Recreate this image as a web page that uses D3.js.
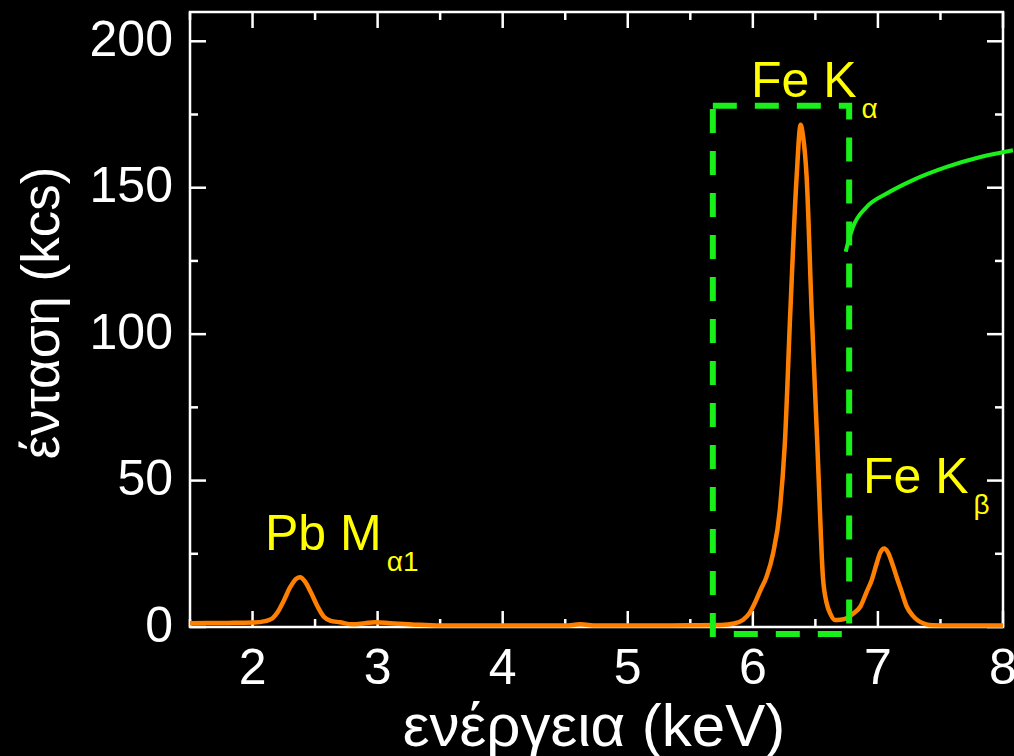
<!DOCTYPE html>
<html>
<head>
<meta charset="utf-8">
<script src="https://cdn.jsdelivr.net/npm/d3@7"></script>
<style>
  html, body { margin: 0; padding: 0; background: #000; }
  svg { display: block; }
  text { font-family: "Liberation Sans", Arial, sans-serif; }
</style>
</head>
<body>
<div id="chart"></div>
<script>
// spectrum (keV, kcs)
const energy = [1.5, 1.8, 2.0, 2.1, 2.16, 2.2, 2.25, 2.3, 2.35, 2.38, 2.42, 2.47, 2.52, 2.57, 2.62, 2.7, 2.8, 2.9, 2.98, 3.1, 3.3, 3.5, 4.0, 4.5, 4.62, 4.75, 5.0, 5.5, 5.75, 5.85, 5.92, 5.97, 6.016, 6.06, 6.11, 6.162, 6.216, 6.256, 6.3, 6.35, 6.382, 6.4, 6.43, 6.47, 6.515, 6.536, 6.55, 6.56, 6.59, 6.62, 6.656, 6.7, 6.75, 6.8, 6.86, 6.91, 6.95, 6.99, 7.02, 7.05, 7.08, 7.12, 7.15, 7.19, 7.23, 7.28, 7.32, 7.38, 7.44, 7.6, 8.0];
const counts = [1.3, 1.4, 1.5, 2.0, 3.0, 5.0, 9.0, 13.5, 16.5, 17.0, 15.5, 11.5, 7.0, 3.5, 2.2, 1.6, 0.9, 1.3, 1.6, 1.3, 0.8, 0.5, 0.5, 0.5, 0.9, 0.5, 0.5, 0.6, 0.7, 1.2, 2.4, 4.5, 8.2, 12.5, 17.2, 25.2, 40, 62.8, 108, 153.7, 171.5, 168, 153.7, 108, 62.8, 40, 25.2, 17.2, 8.2, 4.5, 2.4, 2.5, 3.0, 4.5, 7.0, 12, 16, 21.7, 25.5, 26.8, 25.5, 21.0, 17, 12, 7, 3.8, 2.2, 1.0, 0.6, 0.5, 0.5];

// pointer line out of the Fe K-alpha box
const pointerX = [6.742, 6.76, 6.8, 6.91, 7.07, 7.28, 7.55, 7.82, 8.08];
const pointerY = [128.1, 131.1, 136.5, 143.4, 148.0, 152.6, 157.1, 160.5, 162.8];

// dashed box round the K-alpha peak
const boxX = [5.68, 6.77];
const boxY = [-2.4, 178];

const xMajor = [2, 3, 4, 5, 6, 7, 8];
const xMinor = [1.5, 2.5, 3.5, 4.5, 5.5, 6.5, 7.5];
const yMajor = [0, 50, 100, 150, 200];
const yMinor = [25, 75, 125, 175];

const width = 1014, height = 756;
const pLeft = 190, pRight = 1003, pTop = 12, pBottom = 627;

const svg = d3.select("#chart").append("svg")
  .attr("width", width)
  .attr("height", height);

svg.append("rect").attr("width", width).attr("height", height).attr("fill", "#000");

const x = d3.scaleLinear().domain([1.5, 8]).range([pLeft, pRight]);
const y = d3.scaleLinear().domain([0, 210]).range([pBottom, pTop]);

// ticks on all four sides, pointing in
function xticks(vals, len, g) {
  vals.forEach(v => {
    g.append("line").attr("x1", x(v)).attr("x2", x(v)).attr("y1", pBottom).attr("y2", pBottom - len);
    g.append("line").attr("x1", x(v)).attr("x2", x(v)).attr("y1", pTop).attr("y2", pTop + len);
  });
}
function yticks(vals, len, g) {
  vals.forEach(v => {
    g.append("line").attr("y1", y(v)).attr("y2", y(v)).attr("x1", pLeft).attr("x2", pLeft + len);
    g.append("line").attr("y1", y(v)).attr("y2", y(v)).attr("x1", pRight).attr("x2", pRight - len);
  });
}
const tg = svg.append("g").attr("stroke", "#fff").attr("stroke-width", 2.5);
xticks(xMajor, 16, tg);
xticks(xMinor, 8, tg);
yticks(yMajor, 16, tg);
yticks(yMinor, 8, tg);

svg.append("rect")
  .attr("x", pLeft).attr("y", pTop)
  .attr("width", pRight - pLeft).attr("height", pBottom - pTop)
  .attr("fill", "none")
  .attr("stroke", "#fff")
  .attr("stroke-width", 2.5);

// tick labels
svg.append("g").selectAll("text")
  .data(xMajor).enter().append("text")
  .attr("x", d => x(d))
  .attr("y", 684)
  .attr("text-anchor", "middle")
  .attr("fill", "#fff")
  .attr("font-size", 50)
  .text(d => d);

svg.append("g").selectAll("text")
  .data(yMajor).enter().append("text")
  .attr("x", 173)
  .attr("y", d => y(d) + 14.5)
  .attr("text-anchor", "end")
  .attr("fill", "#fff")
  .attr("font-size", 50)
  .text(d => d);

// axis titles
svg.append("text")
  .attr("x", 594).attr("y", 746)
  .attr("text-anchor", "middle")
  .attr("fill", "#fff")
  .attr("font-size", 60)
  .text("ενέργεια (keV)");

svg.append("text")
  .attr("transform", "translate(59,313) rotate(-90)")
  .attr("text-anchor", "middle")
  .attr("fill", "#fff")
  .attr("font-size", 53)
  .text("ένταση (kcs)");

// spectrum
const spec = energy.map((e, i) => [e, counts[i]]);
svg.append("path")
  .datum(spec)
  .attr("fill", "none")
  .attr("stroke", "#ff8000")
  .attr("stroke-width", 4.5)
  .attr("stroke-linejoin", "round")
  .attr("d", d3.line().x(d => x(d[0])).y(d => y(d[1])).curve(d3.curveMonotoneX));

// dashed box
svg.append("path")
  .attr("d", `M${x(boxX[0])},${y(boxY[1])}H${x(boxX[1])}V${y(boxY[0])}H${x(boxX[0])}Z`)
  .attr("fill", "none")
  .attr("stroke", "#19f019")
  .attr("stroke-width", 6)
  .attr("stroke-dasharray", "24 18");

// pointer curve
svg.append("path")
  .datum(pointerX.map((v, i) => [v, pointerY[i]]))
  .attr("fill", "none")
  .attr("stroke", "#19f019")
  .attr("stroke-width", 4)
  .attr("d", d3.line().x(d => x(d[0])).y(d => y(d[1])).curve(d3.curveMonotoneX));

// peak labels
function label(px, py, main, sub) {
  const t = svg.append("text")
    .attr("x", px).attr("y", py)
    .attr("fill", "#ffff00")
    .attr("font-size", 50);
  t.append("tspan").text(main);
  t.append("tspan").attr("dx", 5).attr("dy", 21).attr("font-size", 28).text(sub);
}
label(751, 97, "Fe K", "α");
label(863, 493, "Fe K", "β");
label(265, 550, "Pb M", "α1");
</script>
</body>
</html>
